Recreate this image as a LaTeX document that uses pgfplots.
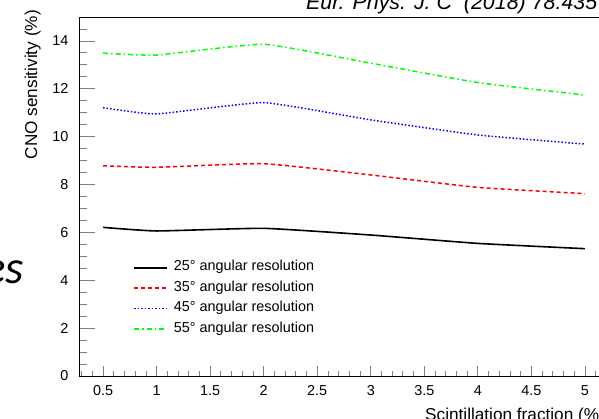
\documentclass[border=0pt]{standalone}
\usepackage{pgfplots}
\pgfplotsset{compat=1.18}
\usepackage{fontspec}
\setmainfont{Liberation Sans}
\newfontfamily\carlito{Carlito}
\begin{document}
\begin{tikzpicture}[x=1pt,y=1pt]
\path[use as bounding box, clip] (0,0) rectangle (599,419);
\begin{axis}[
  at={(79pt,43pt)}, anchor=south west,
  scale only axis, width=530pt, height=359pt,
  xmin=0.275, xmax=5.225, ymin=0, ymax=15,
  xtick={0.5,1,1.5,2,2.5,3,3.5,4,4.5,5},
  ytick={0,2,4,6,8,10,12,14},
  minor xtick={0.3,0.4,0.6,0.7,0.8,0.9,1.1,1.2,1.3,1.4,1.6,1.7,1.8,1.9,2.1,2.2,2.3,2.4,2.6,2.7,2.8,2.9,3.1,3.2,3.3,3.4,3.6,3.7,3.8,3.9,4.1,4.2,4.3,4.4,4.6,4.7,4.8,4.9,5.1,5.2},
  minor ytick={0.5,1,...,14.5},
  xtick pos=bottom, ytick pos=left, tick align=inside,
  axis line style={line width=0.8pt},
  xtick style={line width=0.8pt, /pgfplots/major tick length=10pt, /pgfplots/minor tick length=5pt},
  ytick style={line width=0.8pt, /pgfplots/major tick length=16pt, /pgfplots/minor tick length=8pt},
  ticklabel style={font=\fontsize{14.4}{14.4}\selectfont},
  yticklabel style={xshift=-7pt},
  xticklabel style={yshift=-6pt},
  /pgf/number format/assume math mode=true,
  legend style={draw=none, fill=none, at={(0.1019,0.314)}, anchor=north west,
    inner sep=0pt, row sep=12pt, column sep=6pt,
    font=\fontsize{14.4}{14.4}\selectfont,
    nodes={inner sep=0pt, text depth=0.1em, text height=0.75em},
    cells={anchor=west}},
  legend image code/.code={\draw[#1] (0pt,0pt) -- (33pt,0pt);},
]
\addplot[black, line width=1.6pt, smooth, tension=0.25] coordinates {(0.5,6.21)(1,6.06)(2,6.17)(3,5.89)(4,5.54)(5,5.32)};
\addlegendentry{25° angular resolution}
\addplot[red, line width=1.5pt, dash pattern=on 4pt off 3pt, smooth, tension=0.25] coordinates {(0.5,8.78)(1,8.72)(2,8.87)(3,8.40)(4,7.88)(5,7.62)};
\addlegendentry{35° angular resolution}
\addplot[blue, line width=1.5pt, dash pattern=on 1.5pt off 2pt, smooth, tension=0.25] coordinates {(0.5,11.21)(1,10.95)(2,11.42)(3,10.70)(4,10.07)(5,9.69)};
\addlegendentry{45° angular resolution}
\addplot[green, line width=1.5pt, dash pattern=on 5pt off 3pt on 1.5pt off 3pt, smooth, tension=0.25] coordinates {(0.5,13.49)(1,13.41)(2,13.86)(3,13.07)(4,12.26)(5,11.74)};
\addlegendentry{55° angular resolution}
\end{axis}
\node[anchor=base west, font=\fontsize{21.4}{21.4}\selectfont\itshape, inner sep=0pt] at (306,409) {Eur. Phys. J. C\ \ (2018) 78:435};
\node[rotate=90, anchor=base east, font=\fontsize{17.2}{17.2}\selectfont, inner sep=0pt] at (37,409) {CNO sensitivity (\%)};
\node[anchor=base west, font=\fontsize{17.2}{17.2}\selectfont, inner sep=0pt] at (425,-1.3) {Scintillation fraction (\%)};
\node[anchor=base east, font=\carlito\itshape\fontsize{47}{47}\selectfont, inner sep=0pt] at (24,135) {es};
\end{tikzpicture}
\end{document}
